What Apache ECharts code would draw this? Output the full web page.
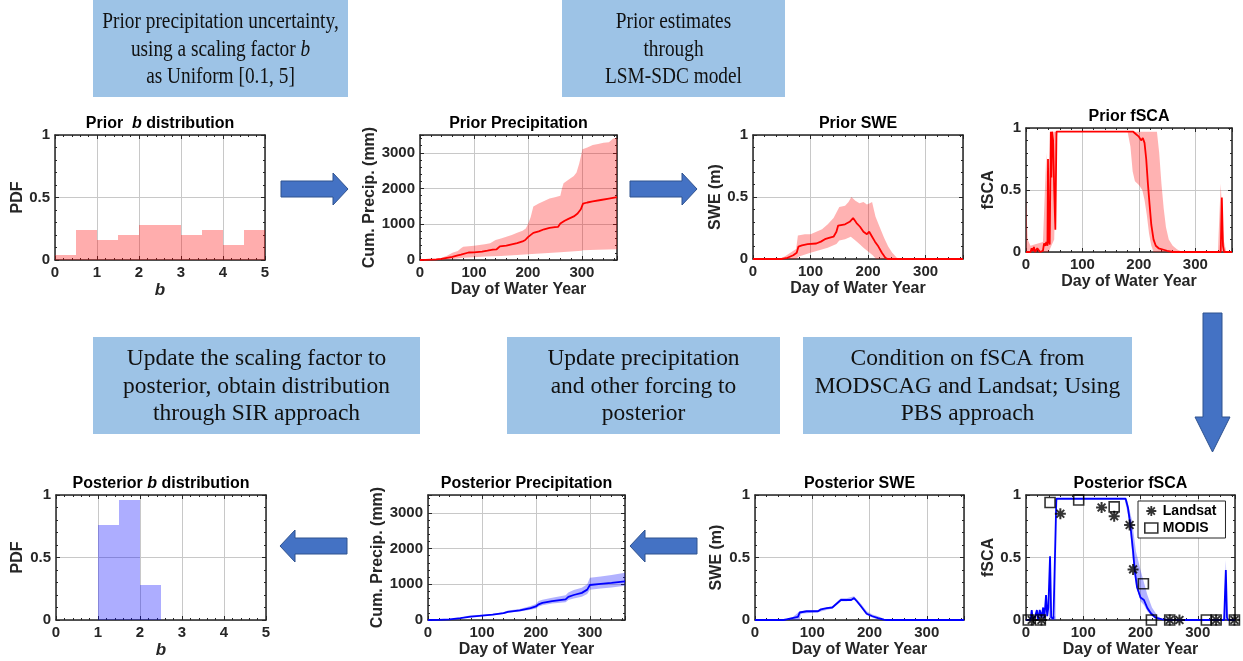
<!DOCTYPE html>
<html><head><meta charset="utf-8">
<script src="https://cdn.jsdelivr.net/npm/echarts@6/dist/echarts.min.js"></script>
<style>html,body{margin:0;padding:0;background:#fff}#c{width:1243px;height:661px}</style>
</head><body><div id="c"></div>
<script>
// ---------------- DATA ----------------
const bEdges = [0, 0.5, 1, 1.5, 2, 2.5, 3, 3.5, 4, 4.5, 5];
const priorB = [0.04, 0.24, 0.16, 0.20, 0.28, 0.28, 0.20, 0.24, 0.12, 0.24];
const postB  = [0, 0, 0.76, 0.96, 0.28, 0, 0, 0, 0, 0];

const priorPrecipMed = [[0,0],[10,5],[20,10],[30,15],[40,30],[50,60],[60,90],[70,130],[76,150],[78,200],[90,210],[100,215],[115,235],[125,260],[135,290],[142,300],[148,380],[160,400],[170,440],[180,470],[190,520],[195,560],[200,640],[210,760],[220,800],[230,860],[240,900],[250,920],[256,930],[260,1020],[268,1100],[275,1150],[285,1220],[292,1300],[298,1420],[302,1580],[310,1610],[320,1640],[335,1680],[350,1720],[365,1760]];
const priorPrecipHigh = [[0,0],[10,10],[20,20],[30,30],[40,60],[50,120],[60,200],[70,250],[76,330],[80,370],[100,400],[120,440],[130,470],[140,560],[150,600],[160,650],[170,700],[180,760],[190,820],[196,880],[200,1000],[205,1200],[210,1500],[220,1580],[230,1650],[240,1720],[250,1760],[260,1800],[263,2000],[266,2150],[275,2250],[285,2350],[290,2450],[295,2700],[298,2900],[301,3100],[310,3150],[320,3220],[330,3250],[340,3280],[350,3300],[358,3400],[365,3420]];
const priorPrecipLow = [[0,0],[20,0],[40,5],[60,30],[80,60],[100,80],[120,95],[150,115],[180,140],[200,160],[230,190],[260,220],[300,260],[301,270],[330,285],[365,300]];

const priorSweMed = [[0,0],[50,0],[55,0.005],[60,0.01],[70,0.03],[76,0.05],[79,0.1],[85,0.11],[95,0.12],[110,0.125],[118,0.14],[125,0.16],[132,0.17],[140,0.18],[145,0.22],[148,0.27],[160,0.28],[168,0.3],[174,0.33],[180,0.29],[186,0.26],[192,0.22],[198,0.2],[202,0.22],[207,0.18],[212,0.14],[218,0.1],[224,0.05],[230,0.01],[234,0],[365,0]];
const priorSweHigh = [[0,0],[45,0],[55,0.02],[65,0.05],[75,0.08],[78,0.19],[90,0.2],[100,0.2],[110,0.22],[120,0.24],[130,0.28],[140,0.33],[150,0.42],[160,0.43],[166,0.46],[171,0.5],[178,0.47],[185,0.45],[192,0.46],[198,0.44],[203,0.45],[207,0.46],[210,0.4],[213,0.34],[220,0.26],[228,0.17],[235,0.1],[242,0.05],[250,0.01],[258,0],[365,0]];
const priorSweLow = [[0,0],[75,0],[80,0.02],[100,0.05],[115,0.07],[130,0.09],[145,0.12],[150,0.15],[160,0.16],[170,0.18],[178,0.15],[185,0.12],[192,0.09],[200,0.06],[208,0.03],[214,0],[365,0]];

const priorFscaMed = [[0,0],[8,0],[10,0.03],[12,0.01],[14,0.04],[16,0],[20,0.03],[23,0.02],[25,0],[30,0.01],[32,0.07],[34,0.05],[36,0.08],[38,0.05],[39,0.75],[40,0.1],[42,0.06],[44,0.97],[45,0.6],[46,0.97],[48,0.9],[50,0.5],[52,0.18],[54,0.97],[190,0.97],[195,0.95],[200,0.93],[204,0.9],[207,0.92],[210,0.88],[213,0.75],[216,0.55],[219,0.38],[222,0.22],[226,0.1],[230,0.05],[235,0.03],[250,0.01],[260,0],[345,0],[347,0.44],[349,0.05],[351,0],[365,0]];
const priorFscaHigh = [[0,0.45],[3,0.1],[8,0.05],[15,0.06],[30,0.08],[36,0.8],[40,0.2],[43,0.97],[55,0.97],[232,0.97],[236,0.8],[240,0.55],[244,0.35],[248,0.2],[253,0.1],[260,0.05],[268,0.02],[278,0],[340,0],[345,0.55],[350,0.1],[355,0],[365,0]];
const priorFscaLow = [[0,0],[40,0],[42,0.02],[50,0.1],[54,0.9],[56,0.97],[180,0.97],[185,0.85],[189,0.65],[193,0.57],[200,0.54],[206,0.5],[210,0.42],[214,0.3],[218,0.15],[222,0.05],[226,0],[365,0]];

const postPrecipMed = [[0,0],[20,5],[40,15],[60,50],[76,90],[78,110],[100,125],[120,150],[140,190],[148,230],[170,270],[190,330],[200,380],[205,440],[212,480],[230,530],[255,580],[260,650],[270,700],[285,760],[295,850],[300,980],[320,1010],[340,1040],[365,1080]];
const postPrecipHigh = [[0,0],[20,8],[40,20],[60,60],[78,130],[100,145],[120,175],[140,220],[148,265],[170,310],[190,390],[200,450],[205,530],[212,570],[230,620],[255,690],[260,770],[270,840],[285,900],[295,1000],[300,1180],[320,1220],[340,1260],[365,1320]];
const postPrecipLow = [[0,0],[20,3],[40,10],[60,40],[78,95],[100,108],[120,130],[140,165],[148,200],[170,235],[190,285],[200,325],[205,380],[212,415],[230,460],[255,500],[260,560],[270,600],[285,650],[295,730],[300,850],[320,880],[340,910],[365,960]];

const postSweMed = [[0,0],[50,0],[55,0.005],[65,0.015],[75,0.025],[78,0.06],[90,0.07],[110,0.07],[115,0.085],[125,0.095],[135,0.1],[145,0.14],[150,0.16],[160,0.16],[163,0.145],[168,0.16],[173,0.175],[178,0.15],[185,0.11],[190,0.08],[195,0.05],[205,0.03],[215,0.015],[225,0.003],[230,0],[365,0]];
const postSweHigh = [[0,0],[50,0],[65,0.02],[78,0.07],[110,0.08],[135,0.11],[150,0.175],[160,0.175],[173,0.19],[185,0.13],[195,0.07],[205,0.045],[215,0.03],[225,0.01],[235,0],[365,0]];
const postSweLow = [[0,0],[78,0],[80,0.05],[110,0.063],[135,0.092],[150,0.15],[160,0.15],[173,0.165],[185,0.1],[195,0.04],[205,0.02],[215,0.005],[225,0],[365,0]];

const postFscaMed = [[0,0],[8,0],[10,0.08],[12,0],[16,0.03],[19,0.08],[21,0],[24,0.08],[27,0.02],[30,0.1],[32,0.01],[35,0.2],[37,0.03],[39,0.1],[42,0.51],[44,0.02],[48,0.01],[51,0.02],[53,0.97],[174,0.97],[178,0.9],[182,0.77],[187,0.55],[190,0.39],[194,0.26],[200,0.18],[206,0.16],[212,0.095],[218,0.054],[226,0.02],[238,0.005],[250,0],[346,0],[349,0.4],[351,0.02],[353,0],[365,0]];
const postFscaHigh = [[0,0],[40,0],[42,0.55],[44,0.03],[51,0.03],[53,0.97],[176,0.97],[185,0.8],[192,0.55],[200,0.4],[206,0.3],[212,0.2],[220,0.1],[230,0.03],[240,0],[345,0],[349,0.48],[352,0],[365,0]];
const postFscaLow = [[0,0],[52,0],[53,0.9],[55,0.97],[172,0.97],[180,0.8],[186,0.5],[192,0.28],[200,0.15],[206,0.12],[212,0.07],[220,0.03],[230,0],[365,0]];

const landsatObs = [[10,0],[27,0],[60,0.85],[132,0.9],[154,0.83],[181,0.76],[187,0.405],[251,0],[268,0],[332,0],[364,0]];
const modisObs = [[4,0],[25,0],[42,0.94],[92,0.96],[154,0.905],[205,0.29],[219,0],[251,0],[315,0],[332,0],[364,0]];

const panelTitles = ['Prior  {i|b} distribution','Prior Precipitation','Prior SWE','Prior fSCA','Posterior {i|b} distribution','Posterior Precipitation','Posterior SWE','Posterior fSCA'];

// ---------------- STYLE / LAYOUT ----------------
const FF = '"Liberation Sans", Arial, Helvetica, sans-serif';
const SERIF = '"Liberation Serif", "Times New Roman", serif';
const AX = '#262626';
const GRID = '#c8c8c8';
const RED = '#ff0000', RED_BAND = 'rgba(255,0,0,0.3)';
const BLUE = '#0000ff', BLUE_BAND = 'rgba(0,0,255,0.3)';
const TICK_FS = 15, NAME_FS = 16;

const grids = [
  {left:55, top:135, width:210, height:125},
  {left:420, top:135, width:197, height:125},
  {left:753, top:135, width:210, height:124},
  {left:1026, top:128, width:206, height:124},
  {left:56, top:495, width:210, height:125},
  {left:428, top:495, width:197, height:125},
  {left:755, top:495, width:209, height:125},
  {left:1026, top:495, width:209, height:125}
];
const titleY = [124, 124, 124, 117, 484, 484, 484, 484];

const xAxes = [], yAxes = [];
function addAxes(gi, o) {
  const tick = {show:true, inside:true, length:4, lineStyle:{color:AX, width:1}};
  const minor = n => ({show:true, splitNumber:n, length:2, lineStyle:{color:AX, width:1}});
  const line = {show:true, onZero:false, lineStyle:{color:AX, width:1.5}};
  const nameStyle = {fontFamily:FF, fontWeight:'bold', fontSize:NAME_FS, color:AX};
  const lab = fmt => ({show:true, color:AX, fontFamily:FF, fontWeight:'bold', fontSize:TICK_FS, margin:5, formatter:fmt});
  const xs = {type:'value', min:o.xmin, max:o.xmax, interval:o.xint};
  const ys = {type:'value', min:o.ymin, max:o.ymax, interval:o.yint};
  xAxes.push(Object.assign({gridIndex:gi, position:'bottom', axisLine:line, axisTick:tick, minorTick:minor(5),
    axisLabel:lab(v => (Math.abs(v / o.xint - Math.round(v / o.xint)) < 1e-6 ? String(v) : '')),
    splitLine:{show:true, lineStyle:{color:GRID, width:1}},
    name:o.xname, nameLocation:'middle', nameGap:o.xgap,
    nameTextStyle:Object.assign({}, nameStyle, {fontStyle:o.xItalic ? 'italic' : 'normal', fontSize:o.xItalic ? 17 : NAME_FS})}, xs));
  xAxes.push(Object.assign({gridIndex:gi, position:'top', axisLine:line, axisTick:tick, minorTick:minor(5),
    axisLabel:{show:false}, splitLine:{show:false}}, xs));
  yAxes.push(Object.assign({gridIndex:gi, position:'left', axisLine:line, axisTick:tick, minorTick:minor(5),
    axisLabel:lab(v => (Math.abs(v / o.yint - Math.round(v / o.yint)) < 1e-6 ? String(v) : '')),
    splitLine:{show:true, lineStyle:{color:GRID, width:1}},
    name:o.yname, nameLocation:'middle', nameGap:o.ygap, nameTextStyle:nameStyle}, ys));
  yAxes.push(Object.assign({gridIndex:gi, position:'right', axisLine:line, axisTick:tick, minorTick:minor(5),
    axisLabel:{show:false}, splitLine:{show:false}}, ys));
}
const bAx = {xmin:0, xmax:5, xint:1, ymin:0, ymax:1, yint:0.5, xname:'b', xItalic:true, xgap:22, yname:'PDF'};
const pAx = {xmin:0, xmax:365, xint:100, ymin:0, ymax:3500, yint:1000, xname:'Day of Water Year', xgap:22, yname:'Cum. Precip. (mm)'};
const sAx = {xmin:0, xmax:365, xint:100, ymin:0, ymax:1, yint:0.5, xname:'Day of Water Year', xgap:22, yname:'SWE (m)'};
const fAx = {xmin:0, xmax:365, xint:100, ymin:0, ymax:1, yint:0.5, xname:'Day of Water Year', xgap:22, yname:'fSCA'};
addAxes(0, Object.assign({}, bAx, {ygap:28}));
addAxes(1, Object.assign({}, pAx, {ygap:39}));
addAxes(2, Object.assign({}, sAx, {ygap:27}));
addAxes(3, Object.assign({}, fAx, {ygap:24}));
addAxes(4, Object.assign({}, bAx, {ygap:30}));
addAxes(5, Object.assign({}, pAx, {ygap:39}));
addAxes(6, Object.assign({}, sAx, {ygap:30}));
addAxes(7, Object.assign({}, fAx, {ygap:24}));

function hist(gi, vals, color) {
  const data = [];
  vals.forEach((v, i) => { if (v > 0) data.push([bEdges[i], bEdges[i + 1], v]); });
  return {type:'custom', xAxisIndex:2*gi, yAxisIndex:2*gi, silent:true, clip:true, z:1,
    encode:{x:[0, 1], y:2}, data:data,
    renderItem:(params, api) => {
      const p0 = api.coord([api.value(0), api.value(2)]);
      const p1 = api.coord([api.value(1), 0]);
      return {type:'rect', shape:{x:p0[0], y:p0[1], width:p1[0]-p0[0], height:p1[1]-p0[1]}, style:{fill:color}};
    }};
}
function band(gi, hi, lo, color) {
  return {type:'custom', xAxisIndex:2*gi, yAxisIndex:2*gi, silent:true, clip:true, z:1,
    data:[hi[0]],
    renderItem:(params, api) => {
      const pts = hi.map(p => api.coord(p)).concat(lo.slice().reverse().map(p => api.coord(p)));
      return {type:'polygon', shape:{points:pts}, style:{fill:color}};
    }};
}
function line(gi, data, color, name) {
  return {type:'line', name:name, xAxisIndex:2*gi, yAxisIndex:2*gi, data:data, symbol:'none', showSymbol:false,
    lineStyle:{color:color, width:1.8}, itemStyle:{color:color}, z:3, clip:true, silent:true};
}
const ASTER = 'path://M0,-10L0,10M-10,0L10,0M-7.07,-7.07L7.07,7.07M-7.07,7.07L7.07,-7.07';

const series = [
  hist(0, priorB, 'rgba(255,0,0,0.32)'),
  band(1, priorPrecipHigh, priorPrecipLow, RED_BAND), line(1, priorPrecipMed, RED),
  band(2, priorSweHigh, priorSweLow, RED_BAND), line(2, priorSweMed, RED),
  band(3, priorFscaHigh, priorFscaLow, RED_BAND), line(3, priorFscaMed, RED),
  hist(4, postB, 'rgba(0,0,255,0.32)'),
  band(5, postPrecipHigh, postPrecipLow, BLUE_BAND), line(5, postPrecipMed, BLUE),
  band(6, postSweHigh, postSweLow, BLUE_BAND), line(6, postSweMed, BLUE),
  band(7, postFscaHigh, postFscaLow, BLUE_BAND), line(7, postFscaMed, BLUE),
  {type:'scatter', name:'Landsat', xAxisIndex:14, yAxisIndex:14, data:landsatObs, symbol:ASTER, symbolSize:11, z:5, clip:false,
    itemStyle:{color:'rgba(0,0,0,0)', borderColor:'#000', borderWidth:2}},
  {type:'scatter', name:'MODIS', xAxisIndex:14, yAxisIndex:14, data:modisObs, symbol:'rect', symbolSize:10, z:5, clip:false,
    itemStyle:{color:'rgba(0,0,0,0)', borderColor:'#000', borderWidth:1.6}}
];

// ---------------- GRAPHICS (boxes, arrows, titles) ----------------
const graphic = [];
const ARROW_FILL = '#4472C4', ARROW_STROKE = '#2F528F';
[
  [[281,181],[333,181],[333,173],[348,189],[333,205],[333,197],[281,197]],
  [[630,181],[682,181],[682,173],[697,189],[682,205],[682,197],[630,197]],
  [[1203,313],[1222,313],[1222,417],[1230,417],[1212.5,452],[1195,417],[1203,417]],
  [[630,546],[645,530],[645,538],[697,538],[697,554],[645,554],[645,562]],
  [[280,546],[295,530],[295,538],[347,538],[347,554],[295,554],[295,562]]
].forEach(pts => graphic.push({type:'polygon', shape:{points:pts}, style:{fill:ARROW_FILL, stroke:ARROW_STROKE, lineWidth:1}, silent:true}));

const boxes = [
  {x:93, y:0, w:255, h:97, s:0.84, text:'Prior precipitation uncertainty,\nusing a scaling factor {i|b}\nas Uniform [0.1, 5]'},
  {x:562, y:0, w:223, h:97, s:0.84, text:'Prior estimates\nthrough\nLSM-SDC model'},
  {x:93, y:337, w:327, h:97, s:1.02, text:'Update the scaling factor to\nposterior, obtain distribution\nthrough SIR approach'},
  {x:507, y:337, w:273, h:97, s:1.02, text:'Update precipitation\nand other forcing to\nposterior'},
  {x:803, y:337, w:329, h:97, s:1.02, text:'Condition on fSCA from\nMODSCAG and Landsat; Using\nPBS approach'}
];
boxes.forEach(b => {
  graphic.push({type:'rect', shape:{x:b.x, y:b.y, width:b.w, height:b.h}, style:{fill:'#9DC3E6'}, silent:true});
  graphic.push({type:'text', x:b.x + b.w/2, y:b.y + b.h/2 + 1, scaleX:b.s, silent:true,
    style:{text:b.text, align:'center', verticalAlign:'middle', fontFamily:SERIF, fontSize:23, lineHeight:27.5, fill:'#111',
      rich:{i:{fontStyle:'italic', fontFamily:SERIF, fontSize:23, lineHeight:27.5, fill:'#111', color:'#111'}}}});
});
panelTitles.forEach((t, i) => {
  const g = grids[i];
  graphic.push({type:'text', x:g.left + g.width/2, y:titleY[i], silent:true,
    style:{text:t, align:'center', verticalAlign:'middle', fontFamily:FF, fontWeight:'bold', fontSize:NAME_FS, fill:'#000',
      rich:{i:{fontStyle:'italic', fontWeight:'bold', fontFamily:FF, fontSize:NAME_FS, fill:'#000', color:'#000'}}}});
});

const option = {
  animation:false,
  backgroundColor:'#fff',
  grid:grids.map(g => Object.assign({show:false, containLabel:false, outerBoundsMode:'none'}, g)),
  xAxis:xAxes, yAxis:yAxes,
  legend:{show:true, selectedMode:false, orient:'vertical', left:1138, top:501, itemWidth:13, itemHeight:10, itemGap:3,
    padding:[3,9,3,6], borderColor:AX, borderWidth:1, backgroundColor:'#fff', z:10,
    textStyle:{fontFamily:FF, fontWeight:'bold', fontSize:14, color:'#000'},
    data:[
      {name:'Landsat', icon:ASTER, itemStyle:{color:'rgba(0,0,0,0)', borderColor:'#000', borderWidth:1.8}},
      {name:'MODIS', icon:'rect', itemStyle:{color:'rgba(0,0,0,0)', borderColor:'#000', borderWidth:1.6}}
    ]},
  series:series,
  graphic:graphic
};
const chart = echarts.init(document.getElementById('c'), null, {renderer:'canvas'});
chart.setOption(option);
</script></body></html>
